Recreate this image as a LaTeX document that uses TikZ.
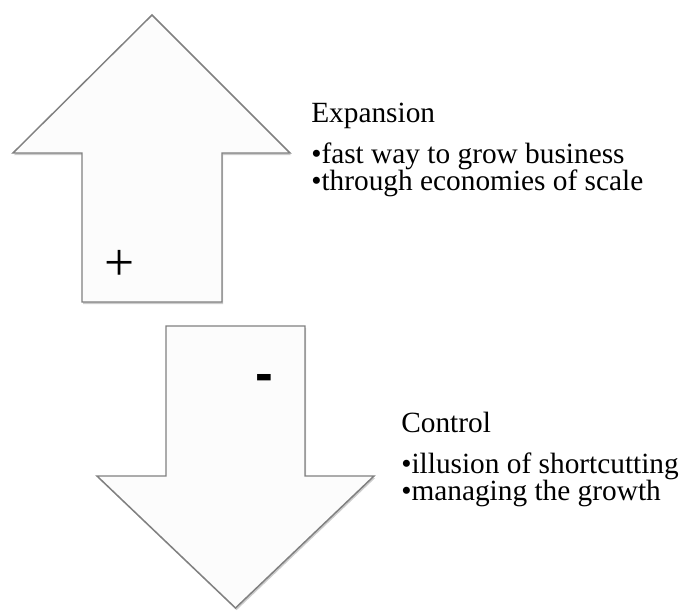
\documentclass[tikz,border=0pt]{standalone}
\usepackage{fontspec}
\setmainfont{Liberation Serif}
\newfontfamily\signfont{Liberation Sans}
\usetikzlibrary{shadows,positioning}

\begin{document}
\begin{tikzpicture}[x=0.75pt, y=-0.75pt, font=\fontsize{22}{24}\selectfont]
\tikzstyle{bigarrow} = [draw=black!50, line width=1.1pt, fill=black!1, line join=miter,
drop shadow={shadow xshift=0.8pt, shadow yshift=-1.6pt, opacity=0.4}]
\tikzstyle{txt} = [anchor=base west, inner sep=0pt]
\useasboundingbox (0,0) rectangle (680,610);
%% the two arrows
\path[bigarrow] (152,15) -- (290,153) -- (222,153) -- (222,302) -- (82,302) -- (82,153) -- (13,153) -- cycle;
\path[bigarrow] (166,326) -- (305,326) -- (305,476) -- (374,476) -- (235.5,608) -- (97,476) -- (166,476) -- cycle;
%% signs
\node[inner sep=0pt,font=\fontsize{40}{40}\selectfont] at (120,265) (plus){+};
\node[inner sep=0pt,font=\signfont\bfseries\fontsize{40}{40}\selectfont] at (264.5,383) (minus){-};
%% labels
\node[txt] at (311,122) (exp){Expansion};
\node[txt] at (311,163) (exp1){•fast way to grow business};
\node[txt] at (311,190) (exp2){•through economies of scale};
\node[txt] at (401,432) (ctl){Control};
\node[txt] at (401,473) (ctl1){•illusion of shortcutting};
\node[txt] at (401,500) (ctl2){•managing the growth};
\end{tikzpicture}
\end{document}
